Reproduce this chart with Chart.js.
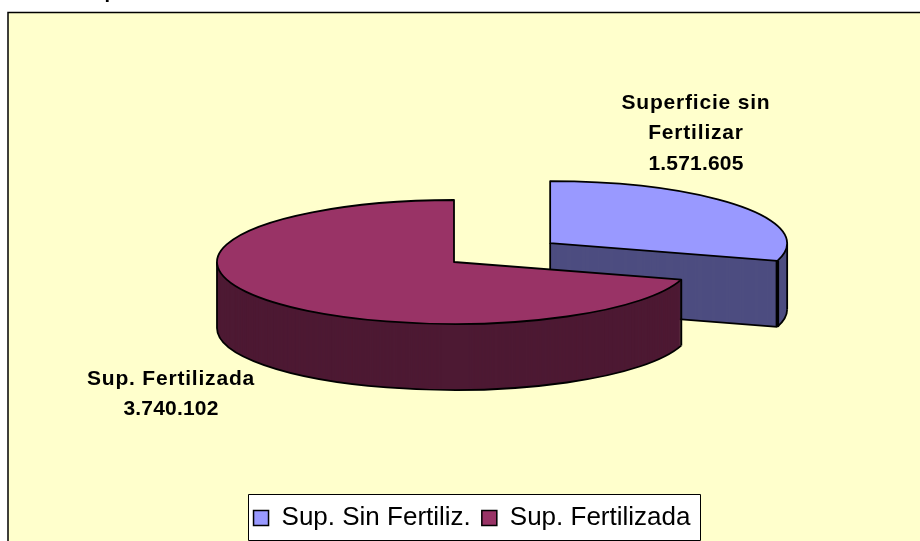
<!DOCTYPE html>
<html><head><meta charset="utf-8">
<style>html,body{margin:0;padding:0;background:#fff}canvas{display:block}</style>
<script src="https://cdn.jsdelivr.net/npm/chart.js@4"></script>
</head><body><canvas id="c" width="920" height="541"></canvas>
<script>
const categories=['Sup. Sin Fertiliz.','Sup. Fertilizada'];
const values=[1571605,3740102];
const dataLabelNames=[['Superficie sin','Fertilizar'],['Sup. Fertilizada']];
const titleText='Superficie Fertilizada';
const topColors=['#9999FF','#993366'];
const sideColors=['#4D4D80','#4D1933'];
const explode=[120,0];
const edgeWidths=[3.5,2];
const labelAnchors=[{x:696,y:108.5},{x:171,y:384.5}];
const PIE={cx:454,cy:262,r:237,squash:62/237,depth:66};
const FONT='"Liberation Sans",Arial,sans-serif';
const LEGEND_BOX={x:248.5,y:494.5,w:452,h:46};

function place(ctx,el,i){
  const mid=(el.startAngle+el.endAngle)/2;
  ctx.translate(PIE.cx,PIE.cy);
  ctx.scale(1,PIE.squash);
  ctx.translate(Math.cos(mid)*explode[i],Math.sin(mid)*explode[i]);
  ctx.translate(-el.x,-el.y);
}
function pt(el,i,a,r,d){
  const mid=(el.startAngle+el.endAngle)/2;
  return {x:PIE.cx+Math.cos(mid)*explode[i]+Math.cos(a)*r,
          y:PIE.cy+PIE.squash*(Math.sin(mid)*explode[i]+Math.sin(a)*r)+d};
}
function ellipsePath(ctx,el,i,d,a0,a1){
  const c=pt(el,i,0,0,d);
  ctx.ellipse(c.x,c.y,el.outerRadius,el.outerRadius*PIE.squash,0,a0,a1);
}
const pie3d={
  id:'pie3d',
  beforeDraw(chart){
    const ctx=chart.ctx;
    ctx.save();
    ctx.fillStyle='#fff';ctx.fillRect(0,0,920,541);
    ctx.fillStyle='#FFFFCC';ctx.strokeStyle='#000';ctx.lineWidth=1.5;
    ctx.beginPath();ctx.rect(8,12.5,1000,1000);ctx.fill();ctx.stroke();
    ctx.font='bold 20px '+FONT;ctx.fillStyle='#000';ctx.textAlign='left';ctx.textBaseline='alphabetic';
    ctx.fillText(titleText,79,-2);
    ctx.fillStyle='#fff';ctx.strokeStyle='#000';ctx.lineWidth=1;
    ctx.beginPath();ctx.rect(LEGEND_BOX.x,LEGEND_BOX.y,LEGEND_BOX.w,LEGEND_BOX.h);ctx.fill();ctx.stroke();
    ctx.restore();
  },
  beforeDatasetsDraw(chart){
    const ctx=chart.ctx,arcs=chart.getDatasetMeta(0).data;
    arcs.forEach((el,i)=>{
      const orig=el.options;
      el.options=Object.assign({},orig,{backgroundColor:sideColors[i]});
      for(let d=PIE.depth;d>=1;d--){
        ctx.save();ctx.translate(0,d);place(ctx,el,i);el.draw(ctx);ctx.restore();
      }
      el.options=orig;
      ctx.save();ctx.strokeStyle='#000';ctx.lineWidth=1.8;ctx.lineJoin='round';
      const a0=Math.max(el.startAngle,0),a1=Math.min(el.endAngle,Math.PI);
      ctx.beginPath();ellipsePath(ctx,el,i,PIE.depth,a0,a1);ctx.stroke();
      const endVisible=Math.cos(el.endAngle)>1e-6;
      if(endVisible){
        const c=pt(el,i,0,0,0),cb=pt(el,i,0,0,PIE.depth),e=pt(el,i,el.endAngle,el.outerRadius,PIE.depth);
        ctx.beginPath();ctx.moveTo(cb.x,cb.y);ctx.lineTo(e.x,e.y);ctx.stroke();
        ctx.beginPath();ctx.moveTo(c.x,c.y);ctx.lineTo(cb.x,cb.y);ctx.stroke();
      }
      [el.startAngle,el.endAngle].forEach(a=>{
        if(Math.sin(a)>1e-6){
          const p=pt(el,i,a,el.outerRadius,0);
          ctx.save();ctx.lineWidth=edgeWidths[i];ctx.beginPath();ctx.moveTo(p.x,p.y);ctx.lineTo(p.x,p.y+PIE.depth);ctx.stroke();ctx.restore();
        }
      });
      [0,Math.PI,2*Math.PI].forEach(a=>{
        if(a>=el.startAngle&&a<=el.endAngle){
          const p=pt(el,i,a,el.outerRadius,0);
          ctx.beginPath();ctx.moveTo(p.x,p.y);ctx.lineTo(p.x,p.y+PIE.depth);ctx.stroke();
        }
      });
      ctx.restore();
      ctx.save();place(ctx,el,i);el.draw(ctx);ctx.restore();
      ctx.save();ctx.strokeStyle='#000';ctx.lineWidth=1.8;ctx.lineJoin='round';
      const c=pt(el,i,0,0,0);
      ctx.beginPath();ctx.moveTo(c.x,c.y);ellipsePath(ctx,el,i,0,el.startAngle,el.endAngle);ctx.closePath();ctx.stroke();
      ctx.restore();
    });
    return false;
  },
  afterDraw(chart){
    const ctx=chart.ctx;
    ctx.save();
    ctx.font='bold 21px '+FONT;ctx.fillStyle='#000';ctx.textAlign='center';ctx.textBaseline='alphabetic';
    values.forEach((v,i)=>{
      const names=dataLabelNames[i];
      names.forEach((t,k)=>{ctx.letterSpacing='0.8px';ctx.fillText(t,labelAnchors[i].x,labelAnchors[i].y+k*30.5);});
      ctx.letterSpacing='0.2px';
      ctx.fillText(String(v).replace(/\B(?=(\d{3})+$)/g,'.'),labelAnchors[i].x,labelAnchors[i].y+names.length*30.5);
    });
    ctx.restore();
  }
};
new Chart(document.getElementById('c'),{
  type:'pie',
  data:{labels:categories,datasets:[{data:values,backgroundColor:topColors,borderWidth:0}]},
  options:{
    responsive:false,animation:false,radius:PIE.r,
    layout:{padding:{left:24,bottom:0}},
    plugins:{
      tooltip:{enabled:false},
      title:{display:false},
      legend:{display:true,position:'bottom',
        labels:{boxWidth:15,boxHeight:15,padding:11,color:'#000',font:{family:FONT,size:26},
          generateLabels(chart){
            return categories.map((t,i)=>({text:t,fillStyle:topColors[i],strokeStyle:'#000',lineWidth:1.5,index:i,hidden:false,fontColor:'#000'}));
          }}}
    }
  },
  plugins:[pie3d]
});
</script></body></html>
